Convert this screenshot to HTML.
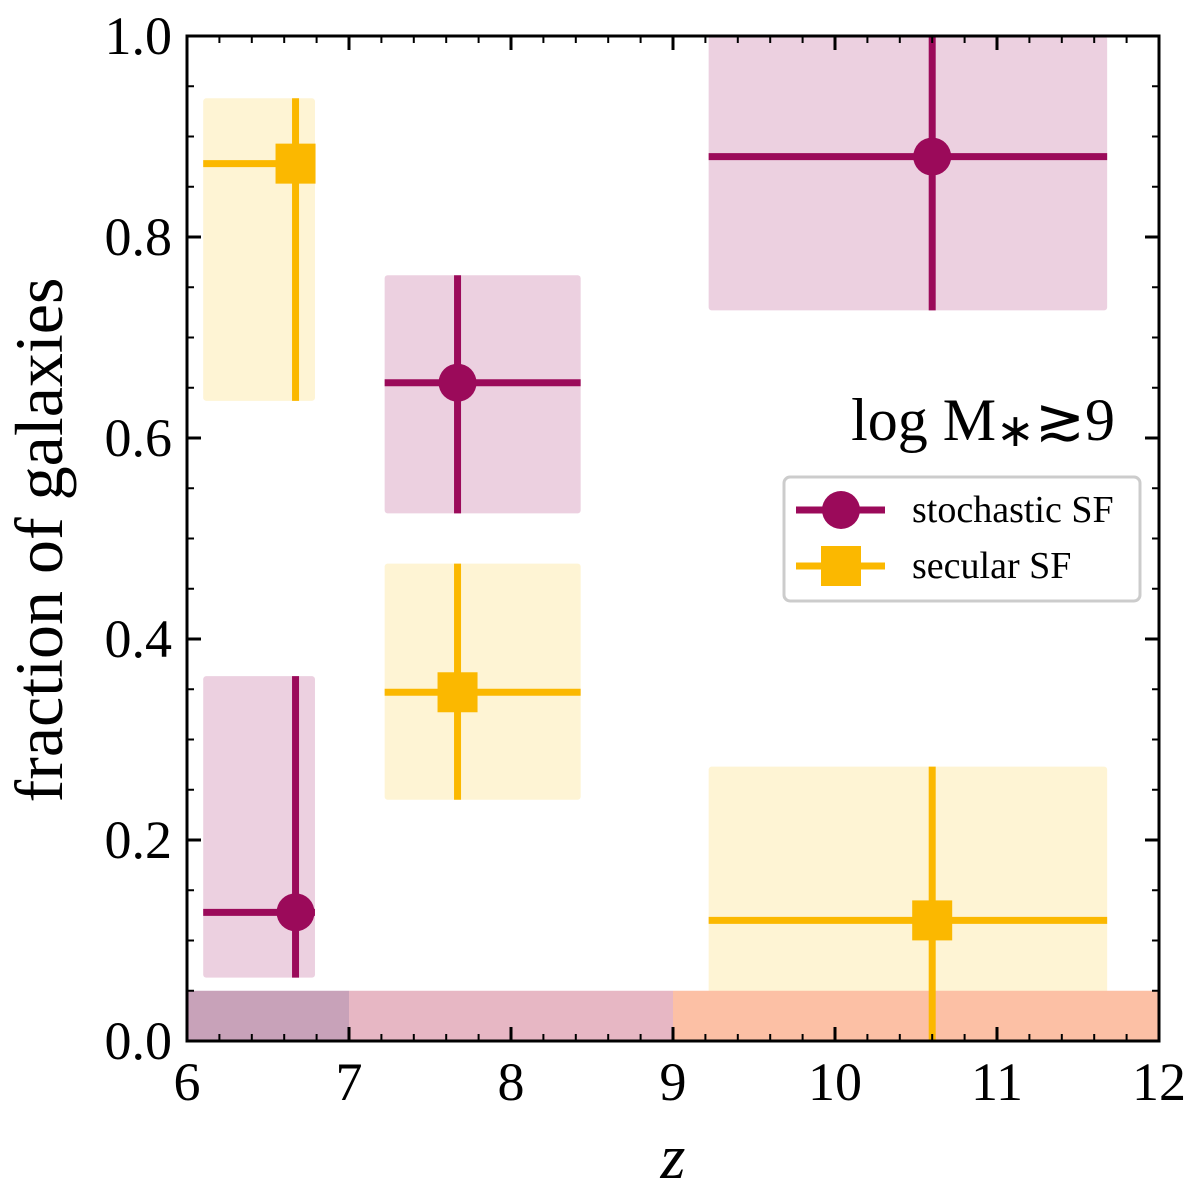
<!DOCTYPE html>
<html><head><meta charset="utf-8"><style>
html,body{margin:0;padding:0;background:#fff}
svg text{font-family:"Liberation Serif",serif;fill:#000}
</style></head><body>
<svg id="chart" width="1200" height="1198" viewBox="0 0 1200 1198" xmlns="http://www.w3.org/2000/svg">
<g id="boxes"></g>
<g id="bands"></g>
<g id="marks"></g>
<g id="axes"></g>
<text x="673" y="1178" font-size="64" font-style="italic" text-anchor="middle">z</text>
<text transform="translate(62,540) rotate(-90)" font-size="68" text-anchor="middle">fraction of galaxies</text>
<text x="1115" y="440" font-size="60" text-anchor="end">log M<tspan font-size="46" dy="6">∗</tspan><tspan dy="-6">≳9</tspan></text>
<g>
<rect x="784" y="477" width="356" height="124" rx="6" fill="#fff" stroke="#ccc" stroke-width="3"/>
<g>
<line x1="796" y1="510" x2="885" y2="510" stroke="#9b0a5a" stroke-width="7"/>
<circle cx="841" cy="510" r="19" fill="#9b0a5a"/>
<text x="912" y="522" font-size="38">stochastic SF</text></g>
<g>
<line x1="796" y1="566" x2="885" y2="566" stroke="#fbb800" stroke-width="7"/>
<rect x="821" y="546" width="40" height="40" fill="#fbb800"/>
<text x="912" y="578" font-size="38">secular SF</text></g>
</g>
</svg>
<script>
const zVals=[6.67,7.67,10.6];
const zLo=[6.1,7.22,9.22];
const zHi=[6.79,8.43,11.68];
const stochVals=[0.128,0.655,0.88];
const stochLo=[0.063,0.525,0.727];
const stochHi=[0.363,0.762,1.0];
const secVals=[0.873,0.347,0.12];
const secLo=[0.637,0.24,0.0];
const secHi=[0.938,0.475,0.273];
const bandStarts=[6,7,9];
const bandEnds=[7,9,12];
const bandColors=['#c8a2b9','#e7b7c4','#fcc0a5'];
const xTicks=[6,7,8,9,10,11,12];
const yTicks=[0.0,0.2,0.4,0.6,0.8,1.0];
const X0=187,X1=1159,Y0=1041,Y1=36;
const sx=v=>X0+(v-6)/6*(X1-X0);
const sy=v=>Y0-v*(Y0-Y1);
const NS='http://www.w3.org/2000/svg';
function mk(tag,parent,attrs){const e=document.createElementNS(NS,tag);for(const k in attrs)e.setAttribute(k,attrs[k]);parent.appendChild(e);return e;}
const bands=document.getElementById('bands'),boxes=document.getElementById('boxes'),marks=document.getElementById('marks'),axes=document.getElementById('axes');
bandStarts.forEach((s,i)=>{const r=mk('rect',bands,{x:sx(s),y:sy(0.05),width:sx(bandEnds[i])-sx(s),height:sy(0)-sy(0.05),fill:bandColors[i]});

});
function series(vals,lo,hi,color,fill,shape,name){
 vals.forEach((v,i)=>{
  const b=mk('rect',boxes,{x:sx(zLo[i]),y:sy(hi[i]),width:sx(zHi[i])-sx(zLo[i]),height:sy(lo[i])-sy(hi[i]),fill:fill,rx:3});
  
  
  const g=mk('g',marks,{});
  
  
  mk('line',g,{x1:sx(zLo[i]),x2:sx(zHi[i]),y1:sy(v),y2:sy(v),stroke:color,'stroke-width':7});
  mk('line',g,{x1:sx(zVals[i]),x2:sx(zVals[i]),y1:sy(lo[i]),y2:sy(hi[i]),stroke:color,'stroke-width':7});
  if(shape==='c')mk('circle',g,{cx:sx(zVals[i]),cy:sy(v),r:19,fill:color});
  else mk('rect',g,{x:sx(zVals[i])-20,y:sy(v)-20,width:40,height:40,fill:color});
 });
}
series(stochVals,stochLo,stochHi,'#9b0a5a','rgba(160,20,100,0.2)','c','stochastic');
series(secVals,secLo,secHi,'#fbb800','rgba(251,200,40,0.2)','s','secular');
for(let v=6;v<=12.001;v+=0.2){const maj=Math.abs(v-Math.round(v))<0.01;const L=maj?14:7;
 mk('line',axes,{x1:sx(v),x2:sx(v),y1:Y0,y2:Y0-L,stroke:'#000','stroke-width':maj?3:2});
 mk('line',axes,{x1:sx(v),x2:sx(v),y1:Y1,y2:Y1+L,stroke:'#000','stroke-width':maj?3:2});}
for(let v=0;v<=1.0001;v+=0.05){const maj=Math.abs(v*5-Math.round(v*5))<0.01;const L=maj?14:7;
 mk('line',axes,{x1:X0,x2:X0+L,y1:sy(v),y2:sy(v),stroke:'#000','stroke-width':maj?3:2});
 mk('line',axes,{x1:X1,x2:X1-L,y1:sy(v),y2:sy(v),stroke:'#000','stroke-width':maj?3:2});}
mk('rect',axes,{x:X0,y:Y1,width:X1-X0,height:Y0-Y1,fill:'none',stroke:'#000','stroke-width':3});
xTicks.forEach(t=>{const e=mk('text',axes,{x:sx(t),y:1100,'font-size':54,'text-anchor':'middle'});e.textContent=t;

});
yTicks.forEach(t=>{const e=mk('text',axes,{x:172,y:sy(t)+18,'font-size':54,'text-anchor':'end'});e.textContent=t.toFixed(1);

});
</script>
</body></html>
